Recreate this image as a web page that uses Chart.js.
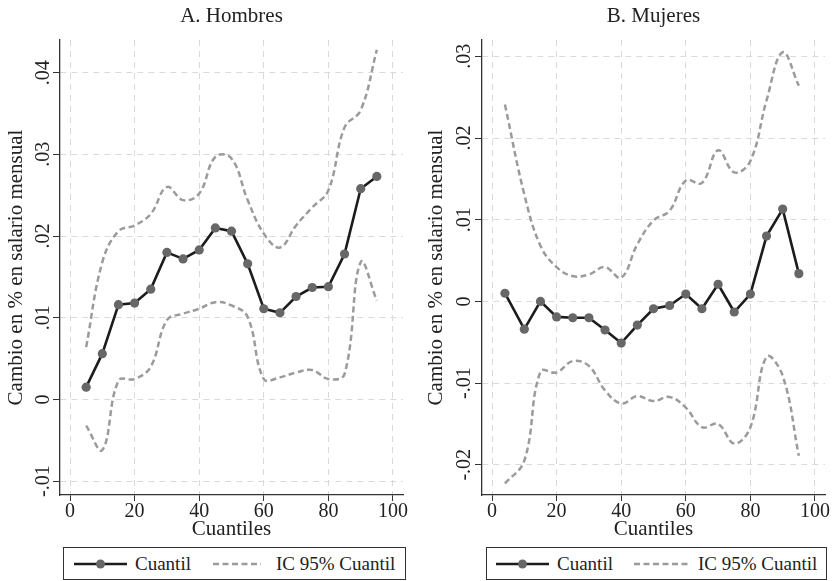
<!DOCTYPE html>
<html><head><meta charset="utf-8">
<script src="https://cdn.jsdelivr.net/npm/chart.js@4/dist/chart.umd.min.js"></script>
<style>
html,body{margin:0;padding:0;background:#fff;}
body{width:835px;height:581px;position:relative;overflow:hidden;font-family:'Liberation Serif',serif;}
.wrap{position:absolute;top:0;height:545px;}
.legend{position:absolute;top:547px;height:33px;border:1.3px solid #333;box-sizing:border-box;font-size:19px;color:#222;}
.legend svg{position:absolute;top:0;left:0;}
.legend span{position:absolute;top:5px;line-height:22px;white-space:nowrap;}
</style></head>
<body>
<div class="wrap" style="left:0;width:417px;"><canvas id="c1" width="417" height="545"></canvas></div>
<div class="wrap" style="left:420px;width:415px;"><canvas id="c2" width="415" height="545"></canvas></div>

<div class="legend" style="left:63px;width:343px;">
  <svg width="341" height="31"><line x1="10" y1="16" x2="63" y2="16" stroke="#1c1c1c" stroke-width="2.6"/><circle cx="36.5" cy="16" r="4.5" fill="#676767"/><line x1="149" y1="16" x2="197" y2="16" stroke="#9b9b9b" stroke-width="2.5" stroke-dasharray="6 3.5"/></svg>
  <span style="left:71px;">Cuantil</span><span style="left:212px;">IC 95% Cuantil</span>
</div>
<div class="legend" style="left:486px;width:341px;">
  <svg width="339" height="31"><line x1="9" y1="16" x2="62" y2="16" stroke="#1c1c1c" stroke-width="2.6"/><circle cx="35.5" cy="16" r="4.5" fill="#676767"/><line x1="147" y1="16" x2="201" y2="16" stroke="#9b9b9b" stroke-width="2.5" stroke-dasharray="6 3.5"/></svg>
  <span style="left:70px;">Cuantil</span><span style="left:211px;">IC 95% Cuantil</span>
</div>

<script>
// ---- Data ----
const xTicks = [0, 20, 40, 60, 80, 100];

const quantilesH = [5,10,15,20,25,30,35,40,45,50,55,60,65,70,75,80,85,90,95];
const cuantilH  = [0.0015,0.0056,0.0116,0.0118,0.0135,0.0180,0.0172,0.0183,0.0210,0.0206,0.0166,0.0111,0.0106,0.0126,0.0137,0.0138,0.0178,0.0258,0.0273];
const ciUpperH  = [0.0064,0.0168,0.0206,0.0213,0.0227,0.0260,0.0244,0.0252,0.0297,0.0295,0.0244,0.0203,0.0186,0.0213,0.0235,0.0256,0.0333,0.0354,0.0428];
const ciLowerH  = [-0.0032,-0.0062,0.0023,0.0025,0.0040,0.0097,0.0105,0.0111,0.0119,0.0115,0.0101,0.0025,0.0027,0.0033,0.0036,0.0025,0.0031,0.0168,0.0121];
const yTicksH   = [-0.01, 0, 0.01, 0.02, 0.03, 0.04];

const quantilesM = [4,10,15,20,25,30,35,40,45,50,55,60,65,70,75,80,85,90,95];
const cuantilM  = [0.0010,-0.0034,0.0000,-0.0019,-0.0020,-0.0020,-0.0035,-0.0051,-0.0029,-0.0009,-0.0005,0.0009,-0.0009,0.0021,-0.0013,0.0009,0.0080,0.0113,0.0034];
const ciUpperM  = [0.0241,0.0131,0.0068,0.0042,0.0031,0.0033,0.0042,0.0029,0.0070,0.0099,0.0111,0.0148,0.0145,0.0185,0.0158,0.0172,0.0246,0.0305,0.0264];
const ciLowerM  = [-0.0223,-0.0195,-0.0086,-0.0087,-0.0073,-0.0079,-0.0109,-0.0125,-0.0116,-0.0122,-0.0117,-0.0130,-0.0154,-0.0150,-0.0174,-0.0154,-0.0068,-0.0091,-0.0189];
const yTicksM   = [-0.02, -0.01, 0, 0.01, 0.02, 0.03];

const F = "'Liberation Serif', 'Times New Roman', serif";
const TXT = '#222';

function pts(xs, ys) { return xs.map((x, i) => ({x: x, y: ys[i]})); }
function fmt(v) {
  if (Math.abs(v) < 1e-12) return '0';
  return (v < 0 ? '-' : '') + Math.abs(v).toFixed(2).replace(/^0/, '');
}

function makeChart(id, title, xs, cu, up, lo, yTicks, yMin, yMax, yW, rightPad, tickPad) {
  const gridCommon = {color: '#dadada', lineWidth: 1, drawTicks: true, tickColor: '#333', tickWidth: 1};
  const borderCommon = {display: true, color: '#333', width: 1.3, dash: [6, 5]};
  return new Chart(document.getElementById(id), {
    type: 'line',
    data: {
      datasets: [
        {label: 'Cuantil', data: pts(xs, cu), borderColor: '#1c1c1c', borderWidth: 2.6,
         pointRadius: 4.6, pointBackgroundColor: '#676767', pointBorderWidth: 0, tension: 0, fill: false},
        {label: 'IC 95% Cuantil', data: pts(xs, up), borderColor: '#9b9b9b', borderWidth: 2.5,
         borderDash: [6, 3.5], pointRadius: 0, tension: 0.4, fill: false},
        {label: 'IC 95% Cuantil (inf)', data: pts(xs, lo), borderColor: '#9b9b9b', borderWidth: 2.5,
         borderDash: [6, 3.5], pointRadius: 0, tension: 0.4, fill: false}
      ]
    },
    options: {
      responsive: false, animation: false, devicePixelRatio: 1,
      layout: {padding: {left: 0, right: rightPad, top: 0, bottom: 0}},
      plugins: {
        legend: {display: false}, tooltip: {enabled: false},
        title: {display: true, text: title, fullSize: false, color: TXT,
                font: {family: F, size: 21, weight: 'normal', lineHeight: 1},
                padding: {top: 6, bottom: 13}}
      },
      scales: {
        x: {
          type: 'linear', min: -3.1, max: 103.1,
          afterBuildTicks: s => { s.ticks = xTicks.map(v => ({value: v})); },
          afterFit: s => { s.height = 50; },
          grid: Object.assign({tickLength: 6}, gridCommon),
          border: borderCommon,
          ticks: {font: {family: F, size: 20, lineHeight: 1}, color: TXT, padding: 1, maxRotation: 0, autoSkip: false},
          title: {display: true, text: 'Cuantiles', color: TXT, font: {family: F, size: 21, lineHeight: 1}, padding: {top: 0, bottom: 5}}
        },
        y: {
          type: 'linear', min: yMin, max: yMax,
          afterBuildTicks: s => { s.ticks = yTicks.map(v => ({value: v})); },
          afterFit: s => { s.width = yW; },
          grid: Object.assign({tickLength: 7}, gridCommon),
          border: borderCommon,
          ticks: {font: {family: F, size: 20, lineHeight: 1}, color: TXT, minRotation: 90, maxRotation: 90,
                  crossAlign: 'center', padding: tickPad, autoSkip: false, callback: v => fmt(v)},
          title: {display: true, text: 'Cambio en % en salario mensual', color: TXT,
                  font: {family: F, size: 21, lineHeight: 1}, padding: {top: 6, bottom: 0}}
        }
      }
    }
  });
}

makeChart('c1', 'A. Hombres', quantilesH, cuantilH, ciUpperH, ciLowerH, yTicksH, -0.0117, 0.044, 60, 14, -7);
makeChart('c2', 'B. Mujeres', quantilesM, cuantilM, ciUpperM, ciLowerM, yTicksM, -0.0237, 0.032, 62, 10, -5.5);
</script>
</body></html>
